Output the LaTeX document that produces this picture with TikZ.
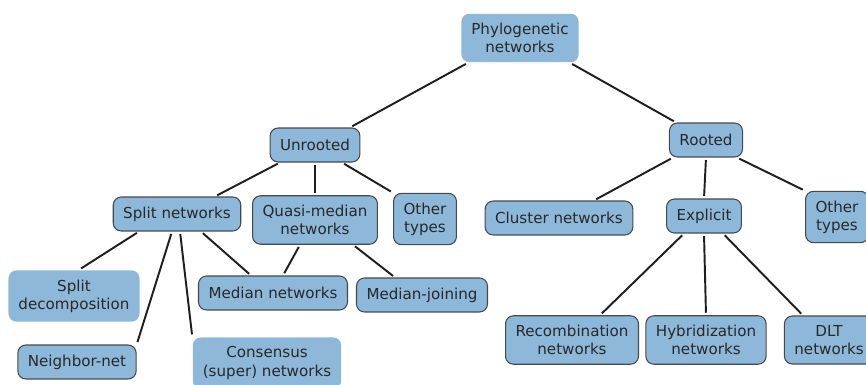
\documentclass[tikz,border=0pt]{standalone}
\usepackage{fontspec}
\setmainfont{DejaVu Sans}
\usepackage{xcolor}
\definecolor{boxfill}{RGB}{141,184,218}
\definecolor{boxline}{RGB}{70,72,76}
\definecolor{textcol}{RGB}{40,40,40}
\definecolor{linkcol}{RGB}{30,30,30}
\tikzstyle{netbox} = [rectangle, rounded corners=0.16cm, minimum height=0.68cm, inner xsep=0.2cm, inner ysep=0.185cm, align=center, draw=boxline, line width=0.6pt, fill=boxfill, text=textcol, font=\fontsize{8.6}{10.4}\selectfont]
\tikzstyle{netplain} = [netbox, draw=none]
\tikzstyle{link} = [draw=linkcol, line width=1.1pt, shorten >=0.05cm, shorten <=0.05cm]

\begin{document}
\begin{tikzpicture}[x=0.02cm, y=-0.02cm]
\useasboundingbox (0,0) rectangle (866,385);
% top levels
\node (phylo) [netplain] at (520,38) {Phylogenetic\\networks};
\node (unrooted) [netbox] at (315,145) {Unrooted};
\node (rooted) [netbox] at (706,140) {Rooted};
% unrooted side
\node (split) [netbox] at (177,214) {Split networks};
\node (quasi) [netbox] at (315,220) {Quasi-median\\networks};
\node (otherU) [netbox] at (425,219) {Other\\types};
\node (splitdec) [netplain] at (74,296) {Split\\decomposition};
\node (median) [netbox] at (273,293) {Median networks};
\node (medjoin) [netbox] at (422,295) {Median-joining};
\node (neighbor) [netbox] at (77,362) {Neighbor-net};
\node (consensus) [netplain] at (267,363) {Consensus\\(super) networks};
% rooted side
\node (cluster) [netbox] at (559,218) {Cluster networks};
\node (explicit) [netbox] at (704,216) {Explicit};
\node (otherR) [netbox] at (837,217) {Other\\types};
\node (recomb) [netbox] at (572,340) {Recombination\\networks};
\node (hybrid) [netbox] at (706,340) {Hybridization\\networks};
\node (dlt) [netbox] at (829,340) {DLT\\networks};

\draw[link] ([xshift=-1.04cm]phylo.south) -- ([xshift=0.7cm]unrooted.north);
\draw[link] ([xshift=1.0cm]phylo.south) -- ([xshift=-0.6cm]rooted.north);
\draw[link] ([xshift=-0.7cm]unrooted.south) -- ([xshift=0.76cm]split.north);
\draw[link] (unrooted.south) -- (quasi.north);
\draw[link] ([xshift=0.54cm]unrooted.south) -- (otherU.north west);
\draw[link] ([xshift=-0.66cm]rooted.south) -- ([xshift=0.7cm]cluster.north);
\draw[link] (rooted.south) -- (explicit.north);
\draw[link] ([xshift=0.62cm]rooted.south) -- (otherR.north west);
\draw[link] ([xshift=-0.76cm]split.south) -- ([xshift=0.1cm]splitdec.north);
\draw[link] ([xshift=-0.1cm]split.south) -- (neighbor.north east);
\draw[link] ([xshift=0.06cm]split.south) -- (consensus.north west);
\draw[link] ([xshift=0.48cm]split.south) -- ([xshift=-0.44cm]median.north);
\draw[link] ([xshift=-0.3cm]quasi.south) -- ([xshift=0.2cm]median.north);
\draw[link] ([xshift=0.76cm]quasi.south) -- ([xshift=-0.54cm]medjoin.north);
\draw[link] ([xshift=-0.4cm]explicit.south) -- ([xshift=0.56cm]recomb.north);
\draw[link] (explicit.south) -- (hybrid.north);
\draw[link] ([xshift=0.38cm]explicit.south) -- ([xshift=-0.52cm]dlt.north);
\end{tikzpicture}
\end{document}
